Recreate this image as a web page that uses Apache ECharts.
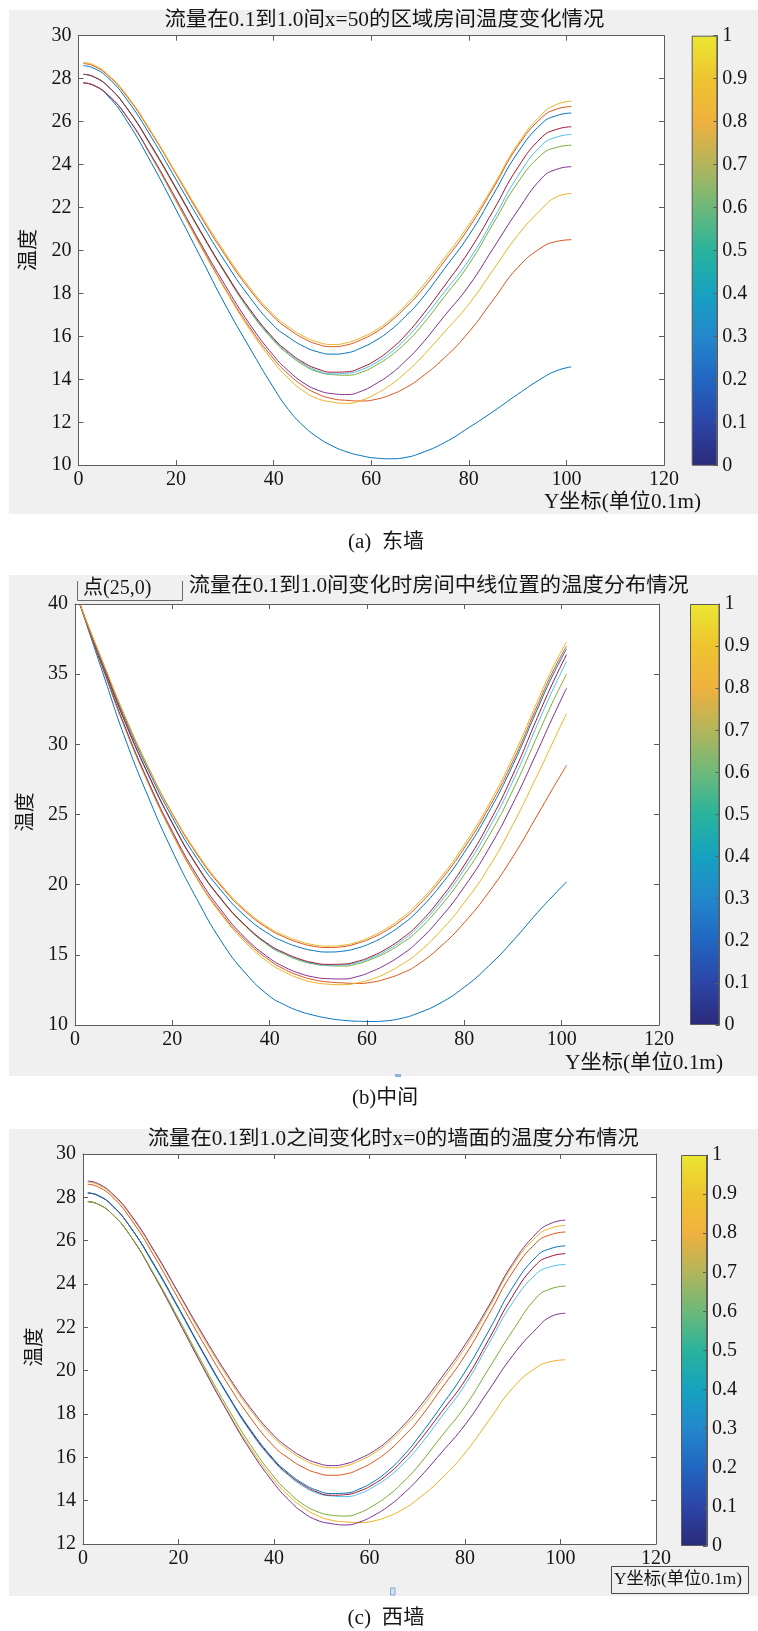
<!DOCTYPE html>
<html><head><meta charset="utf-8">
<script src="https://cdn.jsdelivr.net/npm/echarts@6/dist/echarts.min.js"></script>
<style>html,body{margin:0;padding:0;background:#fff}#c{width:758px;height:1631px}</style>
</head><body><div id="c"></div>
<script>
// ---------- data ----------
const xs = [1,3,6,10,15,20,25,30,35,40,43,46,49,52,55,58,61,64,67,70,75,80,85,90,95,98,101];
const xTicks = [0,20,40,60,80,100,120];
const cbarTicks = [0,0.1,0.2,0.3,0.4,0.5,0.6,0.7,0.8,0.9,1];

// (a) east wall, flow 0.1 ... 1.0
const east01 = [27.8,27.7,27.2,26.0,24.05,21.9,19.7,17.5,15.5,13.6,12.6,11.85,11.3,10.9,10.62,10.44,10.33,10.3,10.36,10.55,11.05,11.75,12.5,13.3,14.05,14.4,14.58];
const east02 = [27.8,27.7,27.25,26.2,24.35,22.3,20.25,18.25,16.45,14.95,14.25,13.7,13.32,13.1,13.02,12.99,13.07,13.28,13.6,14.05,15.0,16.2,17.7,19.2,20.15,20.42,20.5];
const east03 = [27.8,27.7,27.25,26.2,24.35,22.3,20.2,18.2,16.35,14.8,14.05,13.47,13.1,12.94,12.88,13.02,13.33,13.75,14.3,14.95,16.2,17.5,19.1,20.7,21.95,22.5,22.65];
const east04 = [27.8,27.7,27.25,26.2,24.4,22.4,20.35,18.4,16.6,15.1,14.4,13.85,13.5,13.33,13.29,13.45,13.8,14.25,14.85,15.55,16.95,18.35,20.1,21.85,23.38,23.78,23.9];
const east05 = [28.2,28.1,27.65,26.6,24.8,22.85,20.85,18.95,17.2,15.8,15.17,14.68,14.35,14.22,14.19,14.33,14.66,15.1,15.68,16.4,17.85,19.35,21.25,23.15,24.48,24.8,24.9];
const east06 = [28.2,28.1,27.65,26.6,24.85,22.9,20.9,19.0,17.25,15.85,15.22,14.74,14.4,14.25,14.28,14.45,14.78,15.25,15.87,16.63,18.07,19.55,21.45,23.45,24.92,25.28,25.4];
const east07 = [28.2,28.1,27.65,26.6,24.85,22.9,20.9,19.0,17.3,15.9,15.28,14.8,14.48,14.33,14.35,14.55,14.9,15.4,16.05,16.85,18.35,19.95,21.85,23.85,25.28,25.64,25.76];
const east08 = [28.6,28.5,28.05,27.0,25.25,23.3,21.35,19.5,17.85,16.5,15.97,15.55,15.28,15.17,15.23,15.47,15.82,16.3,16.93,17.65,19.15,20.7,22.6,24.55,25.92,26.28,26.4];
const east09 = [28.7,28.6,28.15,27.15,25.45,23.55,21.6,19.8,18.2,16.9,16.35,15.92,15.63,15.52,15.6,15.85,16.2,16.7,17.33,18.05,19.5,21.05,22.9,24.85,26.2,26.58,26.7];
const east10 = [28.75,28.65,28.2,27.2,25.5,23.6,21.7,19.9,18.3,17.0,16.45,16.02,15.74,15.62,15.7,15.95,16.3,16.8,17.45,18.2,19.65,21.2,23.0,24.95,26.35,26.8,26.95];

// (b) room centre line, flow 0.1 ... 1.0
const mid01 = [40,37.9,34.8,30.7,26.3,22.4,19.0,16.0,13.7,12.05,11.45,11.0,10.7,10.48,10.34,10.27,10.25,10.3,10.47,10.78,11.55,12.7,14.2,16.0,18.0,19.12,20.2];
const mid02 = [40,38.0,35.15,31.4,27.3,23.65,20.5,18.0,16.05,14.6,13.98,13.53,13.23,13.07,13.0,12.96,13.05,13.3,13.67,14.2,15.55,17.3,19.45,22.0,24.95,26.75,28.5];
const mid03 = [40,38.0,35.15,31.4,27.25,23.6,20.45,17.9,15.9,14.4,13.79,13.33,13.04,12.91,12.87,13.0,13.27,13.7,14.28,15.0,16.65,18.72,21.22,24.3,27.8,30.0,32.2];
const mid04 = [40,38.0,35.2,31.5,27.4,23.8,20.7,18.2,16.2,14.75,14.14,13.7,13.42,13.3,13.28,13.45,13.82,14.32,14.97,15.78,17.6,19.85,22.55,25.8,29.5,31.8,34.0];
const mid05 = [40,38.1,35.4,31.8,27.85,24.35,21.35,18.95,17.05,15.6,15.05,14.62,14.35,14.23,14.2,14.35,14.7,15.17,15.8,16.58,18.43,20.72,23.45,26.75,30.6,32.9,35.0];
const mid06 = [40,38.1,35.4,31.85,27.9,24.4,21.4,19.0,17.1,15.65,15.1,14.67,14.39,14.26,14.28,14.45,14.8,15.3,15.97,16.8,18.72,21.1,23.97,27.4,31.4,33.75,35.9];
const mid07 = [40,38.1,35.4,31.85,27.9,24.4,21.4,19.0,17.1,15.7,15.15,14.72,14.44,14.32,14.34,14.53,14.9,15.43,16.12,16.98,18.95,21.4,24.35,27.85,31.9,34.25,36.4];
const mid08 = [40,38.15,35.5,32.05,28.2,24.8,21.9,19.6,17.75,16.45,15.93,15.55,15.3,15.2,15.26,15.48,15.86,16.4,17.1,17.97,19.9,22.3,25.15,28.55,32.5,34.8,36.8];
const mid09 = [40,38.2,35.6,32.2,28.4,25.05,22.2,19.9,18.1,16.8,16.27,15.87,15.61,15.52,15.58,15.82,16.2,16.74,17.44,18.32,20.25,22.62,25.45,28.8,32.75,35.05,37.0];
const mid10 = [40,38.2,35.6,32.2,28.4,25.1,22.3,20.0,18.2,16.9,16.38,15.98,15.72,15.62,15.68,15.92,16.32,16.88,17.6,18.5,20.45,22.85,25.7,29.1,33.05,35.35,37.3];

// (c) west wall: the same nine curves as flow 0.2 ... 1.0 of (a)
const west = [east02,east03,east04,east05,east06,east07,east08,east09,east10];

// ---------- styles ----------
const M = {blue:'#0072BD',orange:'#D95319',yellow:'#EDB120',purple:'#7E2F8E',green:'#77AC30',cyan:'#4DBEEE',red:'#A2142F'};
const cycle = [M.blue,M.orange,M.yellow,M.purple,M.green,M.cyan,M.red];
const parula = [[0,'#2b2a7a'],[0.1,'#2c45a6'],[0.2,'#2166c2'],[0.3,'#2387cc'],[0.4,'#16a2c0'],[0.5,'#29b39c'],[0.6,'#6db97a'],[0.7,'#b3b55b'],[0.8,'#efb13f'],[0.9,'#eec42f'],[1,'#ebe732']];
const FONT = '"Liberation Serif","Noto Sans CJK SC",serif';
const AX = '#5c5c5c';
const TXT = '#151515';

const panels = [
  {curves:[east01,east02,east03,east04,east05,east06,east07,east08,east09,east10], colorOffset:0,
   ymin:10,ymax:30,yint:2,
   grid:{left:78.5,top:35.7,width:585.5,height:429.5}, cbar:{left:691.7,top:35.7,width:25.6,height:430}, bg:[9,10,749,504]},
  {curves:[mid01,mid02,mid03,mid04,mid05,mid06,mid07,mid08,mid09,mid10], colorOffset:0,
   ymin:10,ymax:40,yint:5,
   grid:{left:75,top:604,width:584,height:421}, cbar:{left:690,top:604,width:29.5,height:421}, bg:[9,575,749,501]},
  {curves:west, colorOffset:2,
   ymin:12,ymax:30,yint:2,
   grid:{left:83,top:1154,width:573,height:390}, cbar:{left:681,top:1155,width:26,height:391}, bg:[9,1129,749,467]}
];

const cv = document.createElement('canvas').getContext('2d');
function tw(t,s){cv.font=s+'px '+FONT;return cv.measureText(t).width;}
function fitText(cx,cy,text,size,width,extra){
  return Object.assign({type:'text',x:cx,y:cy,scaleX:width/tw(text,size),z:5,silent:true,
    style:{text:text,font:size+'px '+FONT,fill:TXT,align:'center',verticalAlign:'middle',textAlign:'center',textVerticalAlign:'middle'}},extra||{});
}

const grids=[],xAxes=[],yAxes=[],series=[],graphics=[];
panels.forEach((p,i)=>{
  const g=p.grid;
  graphics.push({type:'rect',z:-3,silent:true,shape:{x:p.bg[0],y:p.bg[1],width:p.bg[2],height:p.bg[3]},style:{fill:'#f0f0f0'}});
  graphics.push({type:'rect',z:-2,silent:true,shape:{x:g.left,y:g.top,width:g.width,height:g.height},style:{fill:'#ffffff'}});
  grids.push(Object.assign({show:false,containLabel:false},g));
  grids.push(Object.assign({show:false,containLabel:false},p.cbar));
  const gi=2*i;
  const lab={color:TXT,fontSize:20,fontFamily:FONT};
  const xb={type:'value',gridIndex:gi,min:xTicks[0],max:xTicks[xTicks.length-1],interval:xTicks[1]-xTicks[0],
    axisLine:{show:true,onZero:false,lineStyle:{color:AX,width:1}},axisTick:{show:true,inside:true,length:5,lineStyle:{color:AX}},
    splitLine:{show:false},z:4};
  xAxes.push(Object.assign({},xb,{position:'bottom',axisLabel:Object.assign({margin:5},lab)}));
  xAxes.push(Object.assign({},xb,{position:'top',axisLabel:{show:false}}));
  xAxes.push({type:'category',gridIndex:gi+1,data:['c'],show:false});
  const yb={type:'value',gridIndex:gi,min:p.ymin,max:p.ymax,interval:p.yint,
    axisLine:{show:true,onZero:false,lineStyle:{color:AX,width:1}},axisTick:{show:true,inside:true,length:5,lineStyle:{color:AX}},
    splitLine:{show:false},z:4};
  yAxes.push(Object.assign({},yb,{position:'left',axisLabel:Object.assign({margin:7},lab)}));
  yAxes.push(Object.assign({},yb,{position:'right',axisLabel:{show:false}}));
  yAxes.push({type:'value',gridIndex:gi+1,min:cbarTicks[0],max:cbarTicks[cbarTicks.length-1],interval:cbarTicks[1]-cbarTicks[0],position:'right',
    axisLine:{show:true,lineStyle:{color:AX}},axisTick:{show:true,inside:true,length:4,lineStyle:{color:AX}},
    axisLabel:Object.assign({margin:5},lab),splitLine:{show:false},z:10});
  series.push({type:'bar',xAxisIndex:3*i+2,yAxisIndex:3*i+2,data:[cbarTicks[cbarTicks.length-1]],barWidth:'100%',silent:true,z:2,
    itemStyle:{color:new echarts.graphic.LinearGradient(0,1,0,0,parula.map(s=>({offset:s[0],color:s[1]}))),borderColor:AX,borderWidth:1}});
  p.curves.forEach((vals,k)=>{
    const col=cycle[(k+p.colorOffset)%cycle.length];
    series.push({type:'line',xAxisIndex:3*i,yAxisIndex:3*i,data:xs.map((x,j)=>[x,vals[j]]),showSymbol:false,smooth:0.5,
      silent:true,z:3,lineStyle:{width:1,color:col},itemStyle:{color:col}});
  });
});

// titles
graphics.push(fitText(384.4,21,'流量在0.1到1.0间x=50的区域房间温度变化情况',20,440));
graphics.push(fitText(438.8,587,'流量在0.1到1.0间变化时房间中线位置的温度分布情况',20,500));
graphics.push(fitText(393.3,1139.5,'流量在0.1到1.0之间变化时x=0的墙面的温度分布情况',20,491));
// axis names
graphics.push(fitText(622.5,503,'Y坐标(单位0.1m)',20,157));
graphics.push(fitText(644,1063.5,'Y坐标(单位0.1m)',20,158));
graphics.push({type:'rect',z:1,silent:true,shape:{x:611.5,y:1566.5,width:137,height:27},style:{fill:'#f0f0f0',stroke:'#4a4a4a',lineWidth:1}});
graphics.push(fitText(678,1580,'Y坐标(单位0.1m)',17,128));
graphics.push(fitText(30,250,'温度',20,42,{rotation:Math.PI/2}));
graphics.push(fitText(27,812,'温度',20,39,{rotation:Math.PI/2}));
graphics.push(fitText(36,1347,'温度',20,39,{rotation:Math.PI/2}));
// captions
graphics.push(fitText(386,543,'(a)  东墙',20,76));
graphics.push(fitText(385,1099,'(b)中间',20,66));
graphics.push(fitText(386,1619,'(c)  西墙',20,77));
// button in (b)
graphics.push({type:'polyline',z:1,silent:true,shape:{points:[[77.5,581],[77.5,600.5],[182.5,600.5],[182.5,581]]},style:{stroke:'#6a6a6a',fill:null,lineWidth:1}});
graphics.push({type:'text',x:83,y:589,z:5,silent:true,style:{text:'点(25,0)',font:'20px '+FONT,fill:TXT,align:'left',verticalAlign:'middle',textAlign:'left',textVerticalAlign:'middle'}});
// small markers
graphics.push({type:'rect',z:1,silent:true,shape:{x:395,y:1074,width:6,height:3},style:{fill:'#8ab4de'}});
graphics.push({type:'rect',z:1,silent:true,shape:{x:390.5,y:1588,width:4.5,height:7},style:{fill:'#d3e3f3',stroke:'#7aa7d6',lineWidth:1}});

const chart = echarts.init(document.getElementById('c'),null,{width:758,height:1631});
chart.setOption({animation:false,backgroundColor:'#ffffff',grid:grids,xAxis:xAxes,yAxis:yAxes,series:series,graphic:{elements:graphics}});
</script></body></html>
